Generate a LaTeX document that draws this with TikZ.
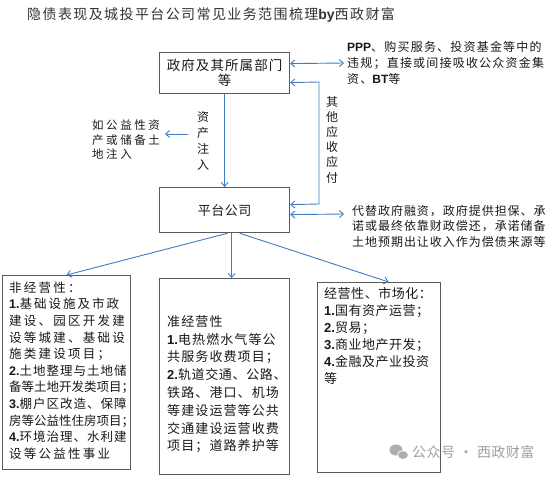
\documentclass[tikz,border=0pt]{standalone}
\usepackage{fontspec}
\setmainfont{Noto Sans CJK SC}
\newfontfamily\lat{Liberation Sans}
\usetikzlibrary{arrows.meta}
\definecolor{arrowblue}{HTML}{3C7DC4}
\definecolor{boxgray}{HTML}{5A5A5A}
\definecolor{titlegray}{HTML}{333333}
\definecolor{wmgray}{HTML}{A0A0A0}
\definecolor{txtblack}{HTML}{1A1A1A}
\newcommand\lsl[2]{{\addfontfeatures{LetterSpace=#1}#2}}
\newcommand\nm[1]{{\lat\bfseries #1}}
\begin{document}
\begin{tikzpicture}[x=1pt,y=-1pt,
  box/.style={draw=boxgray,line width=1.2pt,rectangle,inner sep=0pt,anchor=north west},
  txt/.style={inner sep=0pt,anchor=north west,align=left,text=txtblack},
  conn/.style={draw=arrowblue,line width=0.9pt,-{Straight Barb[length=4pt,width=7pt]}},
  dconn/.style={draw=arrowblue,line width=0.9pt,{Straight Barb[length=4pt,width=7pt]}-{Straight Barb[length=4pt,width=7pt]}}]
\useasboundingbox[fill=white] (0,0) rectangle (553,476);

% title
\node[inner sep=0pt,anchor=west,text=titlegray,font=\fontsize{14}{14}\selectfont] (title) at (27,15)
  {\lsl{10}{隐债表现及城投平台公司常见业务范围梳理}\nm{by}\lsl{10}{西政财富}};

% main boxes
\node[box,minimum width=130pt,minimum height=41pt] (gov) at (159,52) {};
\node[inner sep=0pt,align=center,text=txtblack,font=\fontsize{13.5}{15}\selectfont] (govt) at (gov.center)
  {\lsl{8}{政府及其所属部门}\\\lsl{8}{等}};
\node[box,minimum width=130pt,minimum height=45pt] (plat) at (159,187) {};
\node[inner sep=0pt,text=txtblack,font=\fontsize{13}{13}\selectfont] (platt) at (plat.center) {\lsl{4}{平台公司}};

\node[box,minimum width=128pt,minimum height=194pt] (lbox) at (2,275) {};
\node[box,minimum width=130pt,minimum height=196pt] (mbox) at (159,278) {};
\node[box,minimum width=123pt,minimum height=190pt] (rbox) at (317,282) {};

% side texts
\node[txt,font=\fontsize{12}{16}\selectfont] (ppp) at (347,41.6)
  {\nm{PPP}\lsl{10}{、购买服务、投资基金等中的}\\\lsl{10}{违规；直接或间接吸收公众资金集}\\\lsl{10}{资、}\nm{BT}\lsl{10}{等}};
\node[txt,font=\fontsize{12}{15.5}\selectfont] (sub) at (352,204.6)
  {\lsl{8}{代替政府融资，政府提供担保、承}\\\lsl{8}{诺或最终依靠财政偿还，承诺储备}\\\lsl{8}{土地预期出让收入作为偿债来源等}};
\node[txt,font=\fontsize{11.5}{14.5}\selectfont] (note) at (92,119.8)
  {\lsl{22}{如公益性资}\\\lsl{22}{产或储备土}\\\lsl{22}{地注入}};
\node[inner sep=0pt,align=center,text=txtblack,font=\fontsize{12}{16}\selectfont] (inj) at (203,141)
  {资\\产\\注\\入};
\node[inner sep=0pt,align=center,text=txtblack,font=\fontsize{12}{15.2}\selectfont] (oth) at (332,139.5)
  {其\\他\\应\\收\\应\\付};

% box texts
\node[txt,font=\fontsize{12.5}{16.6}\selectfont] (ltxt) at (9,281.5)
  {\lsl{18}{非经营性：}\\
   \nm{1.}\lsl{16}{基础设施及市政}\\
   \lsl{18}{建设、园区开发建}\\
   \lsl{18}{设等城建、基础设}\\
   \lsl{18}{施类建设项目；}\\
   \nm{2.}\lsl{8}{土地整理与土地储}\\
   \lsl{0}{备等土地开发类项目；}\\
   \nm{3.}\lsl{8}{棚户区改造、保障}\\
   \lsl{0}{房等公益性住房项目；}\\
   \nm{4.}\lsl{8}{环境治理、水利建}\\
   \lsl{18}{设等公益性事业}};
\node[txt,font=\fontsize{13}{17.8}\selectfont] (mtxt) at (167,315.1)
  {\lsl{8.5}{准经营性}\\
   \nm{1.}\lsl{8.5}{电热燃水气等公}\\
   \lsl{8.5}{共服务收费项目；}\\
   \nm{2.}\lsl{5}{轨道交通、公路、}\\
   \lsl{8.5}{铁路、港口、机场}\\
   \lsl{8.5}{等建设运营等公共}\\
   \lsl{8.5}{交通建设运营收费}\\
   \lsl{8.5}{项目；道路养护等}};
\node[txt,font=\fontsize{13}{17}\selectfont] (rtxt) at (324,287.1)
  {\lsl{4}{经营性、市场化：}\\
   \nm{1.}\lsl{4}{国有资产运营；}\\
   \nm{2.}\lsl{4}{贸易；}\\
   \nm{3.}\lsl{4}{商业地产开发；}\\
   \nm{4.}\lsl{4}{金融及产业投资}\\
   \lsl{4}{等}};

% coordinates for free ends
\coordinate (pppend) at (344,63);
\coordinate (subend) at (344,214);
\coordinate (r1) at (319,82);
\coordinate (r2) at (319,204);
\coordinate (a1) at (188,134);
\coordinate (a2) at (165,134);

% connectors
\draw[conn] (gov.south) -- (plat.north);
\draw[conn] (a1) -- (a2);
\draw[dconn] ([yshift=9.5pt]gov.east) -- (pppend);
\draw[dconn] ([yshift=-9.5pt]gov.east) -- (r1) -- (r2) -- ([yshift=5.5pt]plat.east);
\draw[dconn] ([yshift=-4.5pt]plat.east) -- (subend);
\draw[conn] ([xshift=3pt]plat.south) -- (lbox.north);
\draw[conn] ([xshift=7pt]plat.south) -- ([xshift=7pt]mbox.north);
\draw[conn] ([xshift=15pt]plat.south) -- ([xshift=9.5pt]rbox.north);

% watermark
\fill[wmgray!85] (396,450) ellipse (6.5pt and 5.5pt);
\filldraw[fill=wmgray!85,draw=white,line width=0.8pt] (403,455) ellipse (5.5pt and 4.5pt);
\node[inner sep=0pt,anchor=west,text=wmgray,font=\fontsize{14}{14}\selectfont] (wm) at (412,452)
  {\lsl{3}{公众号}\hspace{4pt}·\hspace{4pt}\lsl{3}{西政财富}};
\end{tikzpicture}
\end{document}
